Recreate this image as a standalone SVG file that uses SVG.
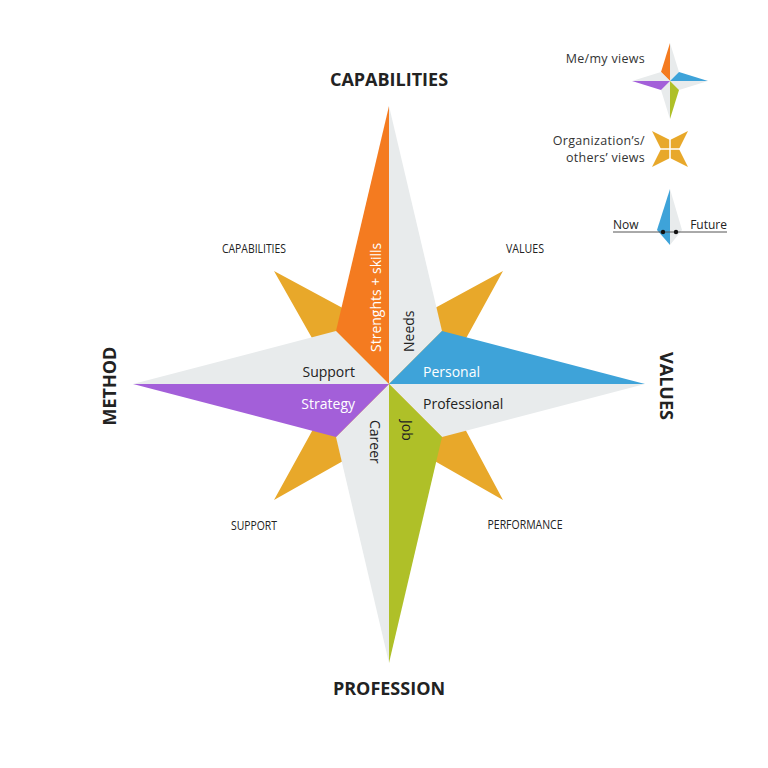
<svg xmlns="http://www.w3.org/2000/svg" width="768" height="768" viewBox="0 0 768 768">
<style>
.or{fill:#F47B20}.gy{fill:#E8EBEC}.bl{fill:#3EA3D9}.pu{fill:#A35FD9}.gr{fill:#AFC028}.go{fill:#E8A82A}
.t{font-family:"Open Sans","Noto Sans",sans-serif;fill:#222}
.big{font-size:18px;font-weight:700;text-anchor:middle}
.sm{font-size:12px;text-anchor:middle}
.in{font-size:14px}
.w{fill:#fff}
.lg{font-size:12.5px;text-anchor:end;letter-spacing:0.3px;fill:#333}
</style>
<rect width="768" height="768" fill="#fff"/>
<g id="gold-star">
<polygon class="go" points="274,271 389,333 503,271 441,384 503,500 389,435 274,500 338,384"/>
</g>
<g id="main-star">
<polygon class="or" points="389,106 389,384 336,331"/>
<polygon class="gy" points="389,106 442,331 389,384"/>
<polygon class="bl" points="645,384 442,331 389,384"/>
<polygon class="gy" points="645,384 389,384 442,437"/>
<polygon class="gr" points="389,663 442,437 389,384"/>
<polygon class="gy" points="389,663 389,384 336,437"/>
<polygon class="pu" points="133,384 336,437 389,384"/>
<polygon class="gy" points="133,384 389,384 336,331"/>
</g>
<g id="titles">
<text class="t big" x="389" y="86">CAPABILITIES</text>
<text class="t big" x="389" y="695">PROFESSION</text>
<text class="t big" transform="translate(116,386) rotate(-90)">METHOD</text>
<text class="t big" transform="translate(660,386) rotate(90)">VALUES</text>
</g>
<g id="corner-labels">
<text class="t sm" x="254" y="253" textLength="64" lengthAdjust="spacingAndGlyphs">CAPABILITIES</text>
<text class="t sm" x="525" y="253" textLength="38" lengthAdjust="spacingAndGlyphs">VALUES</text>
<text class="t sm" x="254" y="530" textLength="46" lengthAdjust="spacingAndGlyphs">SUPPORT</text>
<text class="t sm" x="525" y="529" textLength="75" lengthAdjust="spacingAndGlyphs">PERFORMANCE</text>
</g>
<g id="inner-labels">
<text class="t in w" transform="translate(381,352) rotate(-90)">Strenghts + skills</text>
<text class="t in" transform="translate(414,352) rotate(-90)">Needs</text>
<text class="t in w" x="423" y="377">Personal</text>
<text class="t in" x="355" y="377" text-anchor="end">Support</text>
<text class="t in w" x="355" y="409" text-anchor="end">Strategy</text>
<text class="t in" x="423" y="409">Professional</text>
<text class="t in" transform="translate(370,420) rotate(90)">Career</text>
<text class="t in" transform="translate(402,420) rotate(90)">Job</text>
</g>
<g id="legend-me">
<text class="t lg" x="645" y="63">Me/my views</text>
<polygon class="or" points="670,43 670,81 661,72"/>
<polygon class="gy" points="670,43 679,72 670,81"/>
<polygon class="bl" points="708,81 679,72 670,81"/>
<polygon class="gy" points="708,81 670,81 679,90"/>
<polygon class="gr" points="670,119 679,90 670,81"/>
<polygon class="gy" points="670,119 670,81 661,90"/>
<polygon class="pu" points="632,81 661,90 670,81"/>
<polygon class="gy" points="632,81 670,81 661,72"/>
</g>
<g id="legend-org">
<text class="t lg" x="645" y="145">Organization’s/</text>
<text class="t lg" x="645" y="162">others’ views</text>
<polygon class="go" points="652,131 670,140 688,131 679,149 688,167 670,158 652,167 661,149"/>
<path d="M670,136 V162 M657,149 H683" stroke="#fff" stroke-width="1.5"/>
</g>
<g id="legend-time">
<polygon class="bl" points="670,189 657,230 670,245"/>
<polygon class="gy" points="670,189 682,230 670,245"/>
<line x1="613" y1="232" x2="727" y2="232" stroke="#555" stroke-width="1"/>
<circle cx="663" cy="232" r="2.2" fill="#111"/>
<circle cx="676" cy="232" r="2.2" fill="#111"/>
<text class="t" x="613" y="229" font-size="12" fill="#333">Now</text>
<text class="t" x="727" y="229" font-size="12" text-anchor="end" fill="#333">Future</text>
</g>
</svg>
